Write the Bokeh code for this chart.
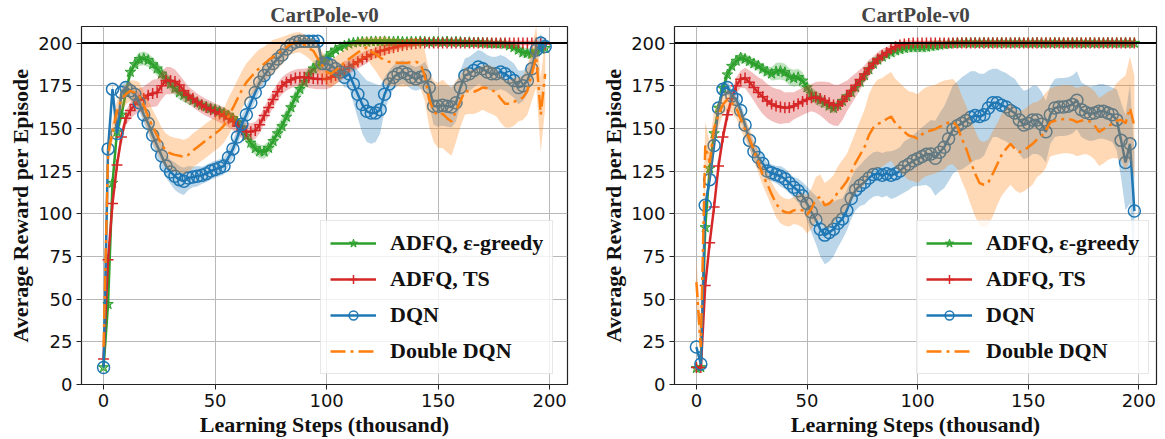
from bokeh.plotting import figure
from bokeh.models import Range1d, FixedTicker, Span, Legend, LegendItem
from bokeh.layouts import row
from bokeh.embed import file_html
from bokeh.resources import INLINE

# ---------------- data (learning steps in thousands) ----------------
STEPS = list(range(0, 200, 2))
X_TICKS = [0, 50, 100, 150, 200]
Y_TICKS = [0, 25, 50, 75, 100, 125, 150, 175, 200]
TITLE = "CartPole-v0"
LABELS = ["ADFQ, \u03b5-greedy", "ADFQ, TS", "DQN", "Double DQN"]

# ---- left panel ----
L_EG = [10, 47, 118, 148, 158, 171, 183, 187.5, 190.5, 191,
        190, 187.5, 185, 182, 179, 176, 173.5, 171, 169.5, 168,
        166.5, 165, 163.7, 162.7, 161.7, 161, 160, 159, 157.6, 156,
        153.5, 150.5, 145.5, 141.5, 138.3, 136.5, 136.3, 138.5, 142.5, 147,
        151.2, 156.7, 162.3, 167.8, 173, 177, 181.5, 185, 186.8, 189.2,
        191.3, 194, 196, 197.5, 198.5, 199.5, 200.2, 200.5, 200.8, 200.6,
        200.9, 201, 200.8, 201, 200.7, 200.9, 201, 200.8, 200.6, 200.9,
        200.7, 201, 200.8, 200.5, 200.9, 200.7, 200.6, 200.9, 200.5, 200.8,
        200.6, 200.3, 200.5, 200.2, 200.4, 200.1, 200, 199.8, 199.6, 199.7,
        199.4, 198.5, 197.5, 196, 194.5, 194, 193.6, 195, 196.5, 197]
L_EG_SD = [1, 4, 5, 5, 4, 4, 4, 4, 4, 4,
           4, 4, 4, 4, 4, 4, 4, 4, 4, 4,
           3, 3, 3, 3, 3, 3, 3, 3, 3, 3,
           3, 4, 4, 4, 4, 4, 4, 4, 5, 5,
           5, 5, 5, 5, 5, 5, 4, 4, 4, 4,
           3, 3, 2, 2, 2, 1.5, 1.5, 1.5, 1.5, 1.5,
           1.5, 1.5, 1.5, 1.5, 1.5, 1.5, 1.5, 1.5, 1.5, 1.5,
           1.5, 1.5, 1.5, 1.5, 1.5, 1.5, 1.5, 1.5, 1.5, 1.5,
           1.5, 1.5, 1.5, 1.5, 1.5, 1.5, 1.5, 1.5, 1.5, 1.5,
           2, 2, 3, 3, 3, 3, 3, 3, 3, 3]
L_TS = [15, 73, 106, 128.5, 145, 156, 160.5, 164, 166.5, 167.5,
        169.5, 170.5, 171, 175, 178, 178, 177.5, 175.5, 172, 169.5,
        167.5, 165.5, 163.7, 162.3, 161, 159.8, 158.5, 157.2, 155.7, 154,
        151.5, 149.3, 148.2, 148, 148.8, 152.2, 157.5, 162.3, 167, 171.5,
        175, 177, 178.5, 179.5, 180, 180, 179.7, 179.3, 179, 179,
        179, 180, 181, 182.5, 184.5, 186, 187.5, 189, 190.5, 192,
        193.3, 194.3, 195.3, 196, 196.8, 197.3, 198, 198.5, 199, 199.4,
        199.7, 200, 200, 200, 200, 200, 200, 200, 200, 200,
        200, 200, 200, 200, 200, 200, 200, 200, 200, 200,
        200, 200, 200, 200, 200, 200, 200, 200, 200, 199.5]
L_TS_SD = [1, 4, 4, 4, 4, 4, 5, 6, 7, 7,
           7, 8, 8, 8, 8, 8, 7, 6, 6, 5,
           5, 5, 5, 5, 5, 5, 5, 5, 5, 5,
           5, 5, 5, 5, 5, 5, 5, 5, 5, 5,
           5, 5, 5, 5, 5, 5, 6, 6, 6, 6,
           6, 6, 5, 5, 5, 4, 4, 4, 4, 4,
           3, 3, 3, 3, 3, 2, 2, 2, 2, 2,
           1.5, 1.5, 1.5, 1.5, 1.5, 1.5, 1.5, 1.5, 1.5, 1.5,
           1.5, 1.5, 1.5, 1.5, 1.5, 1.5, 1.5, 1.5, 1.5, 1.5,
           1.5, 1.5, 1.5, 1.5, 1.5, 1.5, 1.5, 1.5, 1.5, 1.5]
L_DQN = [10, 138, 173, 147, 171, 174, 172, 170, 165, 158,
         153, 146, 140, 134, 128, 124.5, 122, 120, 119, 121,
         121.5, 122, 122.5, 123.5, 125, 126, 127, 128, 133, 138,
         145, 152.5, 158, 165, 171, 177, 181, 184.5, 188, 190.7,
         193, 196.5, 199, 200.5, 201, 201, 201, 201, 201, 188,
         188, 187, 185, 183, 180, 182, 176, 170, 164, 160,
         159, 159, 161, 170, 176, 180, 182, 183, 182, 180,
         179, 180, 181, 174, 163, 163, 163.5, 163, 162.5, 165,
         174, 181, 182, 184, 186, 185, 183, 182, 182, 183,
         182, 180, 178, 174, 175, 178, 185, 196, 200, 198]
L_DQN_SD = [2, 4, 4, 4, 4, 4, 4, 5, 5, 5,
            6, 6, 7, 7, 7, 7, 8, 8, 8, 7,
            6, 6, 5, 5, 5, 5, 5, 5, 5, 5,
            5, 5, 5, 5, 5, 5, 5, 5, 4, 4,
            4, 4, 3, 3, 2, 2, 2, 2, 2, 4,
            5, 5, 5, 5, 6, 8, 11, 14, 17, 18,
            18, 17, 14, 10, 8, 7, 7, 7, 7, 7,
            7, 7, 8, 10, 11, 12, 12, 12, 12, 11,
            10, 10, 10, 10, 10, 10, 10, 10, 10, 10,
            10, 10, 10, 10, 9, 8, 7, 6, 5, 4]
L_DDQN = [22, 135, 148, 160, 167, 170, 172, 171, 169, 163.5,
          157, 151, 146, 140.5, 137, 135.3, 134.5, 134, 133.3, 134.5,
          137, 139, 141, 143, 145, 147, 149, 151.8, 157, 162,
          167.3, 172.5, 177, 180, 183, 185.5, 187.8, 190, 192, 193.6,
          195.5, 197.5, 199.4, 200.2, 200.4, 199, 197, 195.5, 191, 187,
          183, 182, 184, 186, 188.5, 190.7, 192.6, 194.5, 196, 197.5,
          195, 193.6, 191.5, 190, 189, 188.8, 188.5, 188.3, 188.5, 188.8,
          189, 188, 181, 167, 160, 157.6, 158.6, 156, 154, 160,
          166, 172, 171.5, 171.5, 172.5, 174, 173.5, 172.5, 171.2, 167.5,
          164.5, 164.4, 165.5, 167, 168, 172, 182, 192, 158, 182]
L_DDQN_SD = [3, 6, 6, 6, 6, 6, 6, 7, 8, 8,
             9, 10, 10, 10, 10, 10, 10, 10, 10, 10,
             10, 10, 10, 10, 10, 10, 10, 10, 11, 11,
             11, 11, 11, 11, 11, 11, 10, 10, 10, 9,
             8, 7, 6, 6, 6, 6, 6, 7, 8, 8,
             8, 8, 8, 8, 8, 8, 8, 8, 7, 6,
             8, 10, 12, 14, 14, 14, 14, 14, 14, 14,
             14, 14, 15, 16, 18, 19, 20, 20, 20, 18,
             15, 14, 13, 13, 13, 13, 14, 14, 14, 14,
             14, 14, 14, 13, 13, 14, 16, 18, 22, 20]

# ---- right panel ----
R_EG = [9.5, 10, 92, 126.5, 147, 162, 173.5, 181.5, 186.5, 189.5,
        191.5, 190.7, 189.3, 188, 186.7, 184.8, 183.2, 182, 183.4, 183.6,
        182.9, 180.3, 179.4, 180, 177.9, 174, 170.2, 168, 166.6, 164.9,
        163.2, 161.8, 163.5, 166, 168.7, 171.2, 174, 177.2, 181, 184.5,
        187.8, 190.2, 191.9, 193.3, 194.5, 195.6, 196.3, 197, 197.5, 197.5,
        197.8, 197.5, 197.8, 198.2, 198.5, 198.9, 199.2, 199.5, 199.8, 200,
        200, 200.2, 200, 200.1, 200, 200.2, 200, 200.1, 200, 200.2,
        200, 200.1, 200, 200.2, 200, 200.1, 200, 200.2, 200, 200.1,
        200, 200.2, 200, 200.1, 200, 200.2, 200, 200.1, 200, 200.2,
        200, 200.1, 200, 200.2, 200, 200.1, 200, 200.2, 200, 200]
R_EG_SD = [1, 2, 5, 5, 4, 4, 3, 3, 3, 3,
           3, 3, 3, 3, 3, 3, 3, 4, 5, 5,
           5, 5, 5, 5, 5, 4, 4, 4, 4, 3,
           3, 3, 3, 3, 3, 3, 3, 3, 3, 3,
           3, 3, 3, 3, 3, 3, 3, 3, 3, 3,
           3, 3, 3, 3, 3, 3, 1.5, 1.5, 1.5, 1.5,
           1.5, 1.5, 1.5, 1.5, 1.5, 1.5, 1.5, 1.5, 1.5, 1.5,
           1.5, 1.5, 1.5, 1.5, 1.5, 1.5, 1.5, 1.5, 1.5, 1.5,
           1.5, 1.5, 1.5, 1.5, 1.5, 1.5, 1.5, 1.5, 1.5, 1.5,
           1.5, 1.5, 1.5, 1.5, 1.5, 1.5, 1.5, 1.5, 1.5, 1.5]
R_TS = [10, 10, 58, 83, 104, 128, 145, 158, 167.5, 175,
        178.8, 179.5, 177, 174, 171, 168.5, 166, 164.3, 163.2, 162.6,
        162.1, 162.2, 163.2, 164.5, 165.8, 167, 168, 168.2, 167.5, 166.3,
        165, 163.7, 163.4, 165.8, 168.9, 172.2, 175.3, 178.6, 181.9, 185.2,
        188.1, 190.7, 192.7, 194.5, 196.5, 197.8, 198.8, 199.4, 199.8, 200,
        200, 200, 200, 200, 200, 200, 200, 200, 200, 200,
        200, 200, 200, 200, 200, 200, 200, 200, 200, 200,
        200, 200, 200, 200, 200, 200, 200, 200, 200, 200,
        200, 200, 200, 200, 200, 200, 200, 200, 200, 200,
        200, 200, 200, 200, 200, 200, 200, 200, 200, 200]
R_TS_SD = [1, 1, 3, 3, 3, 3, 4, 4, 4, 5,
           5, 6, 7, 8, 9, 10, 10, 10, 10, 10,
           9, 9, 8, 8, 8, 8, 8, 9, 10, 11,
           12, 12, 12, 11, 9, 8, 7, 6, 5, 5,
           4, 4, 4, 3, 3, 3, 2, 2, 2, 1.5,
           1.5, 1.5, 1.5, 1.5, 1.5, 1.5, 1.5, 1.5, 1.5, 1.5,
           1.5, 1.5, 1.5, 1.5, 1.5, 1.5, 1.5, 1.5, 1.5, 1.5,
           1.5, 1.5, 1.5, 1.5, 1.5, 1.5, 1.5, 1.5, 1.5, 1.5,
           1.5, 1.5, 1.5, 1.5, 1.5, 1.5, 1.5, 1.5, 1.5, 1.5,
           1.5, 1.5, 1.5, 1.5, 1.5, 1.5, 1.5, 1.5, 1.5, 1.5]
R_DQN = [22, 12, 105, 120, 140, 162, 173, 174, 169, 167,
         160.5, 152, 143, 136.5, 133, 129.5, 125, 124, 123, 122,
         120.5, 118, 115.5, 113.5, 110.5, 106, 101, 96.5, 91, 87.5,
         89, 91, 94.4, 97, 102, 109, 114, 116.5, 118.5, 121,
         123, 123.5, 122.6, 123.5, 122.6, 123.5, 125, 127.5, 129, 131,
         132.3, 133.5, 134.8, 135, 132.5, 136, 139, 144, 149.5, 151.5,
         153, 154.7, 156.5, 157.5, 157, 158, 162, 165, 165, 163.5,
         162.5, 160.5, 159, 155, 152, 153, 155, 155, 152.5, 148,
         158, 162, 162.5, 162.5, 163, 164, 166.5, 161, 159.5, 158.6,
         159, 160, 160, 159, 158, 155, 143, 130, 141, 101.6]
R_DQN_SD = [2, 3, 4, 4, 4, 4, 4, 4, 4, 4,
            5, 5, 5, 5, 5, 5, 5, 5, 5, 6,
            6, 6, 6, 7, 8, 10, 12, 14, 16, 17,
            17, 16, 14, 12, 12, 12, 12, 12, 13, 13,
            13, 13, 13, 13, 14, 14, 14, 15, 15, 15,
            16, 17, 18, 20, 22, 23, 24, 25, 26, 26,
            27, 27, 27, 26, 25, 24, 22, 20, 20, 20,
            20, 20, 20, 20, 20, 20, 20, 20, 19, 18,
            17, 17, 17, 17, 17, 17, 17, 16, 16, 16,
            16, 16, 16, 16, 16, 18, 22, 28, 35, 35]
R_DDQN = [60, 22, 140, 130, 150, 158, 164, 167, 165, 162,
          155.5, 149.5, 144, 137, 130, 122.6, 117.5, 111.5, 106, 102.5,
          101, 100.5, 102, 102.5, 102, 99.5, 103, 108.5, 110, 105,
          106, 108.5, 112.8, 115.5, 119, 124.5, 130, 134.5, 139, 146,
          150.5, 152.7, 153.5, 155.5, 157, 153, 150.5, 148, 145.8, 145.2,
          144, 146.5, 148.2, 148.8, 149.6, 151, 152, 153.5, 154, 151,
          144, 138, 130.5, 123.5, 118, 117, 118.5, 123.5, 129, 134.5,
          138, 141, 138, 136.2, 137, 139, 141, 143.5, 145.5, 149,
          153.5, 154.5, 155, 155.5, 155.5, 155, 153.7, 154.5, 155, 154,
          151.8, 148, 149.5, 151.5, 152.5, 154.5, 155, 153, 162, 151]
R_DDQN_SD = [15, 10, 14, 12, 10, 7, 6, 6, 6, 6,
             6, 6, 6, 6, 6, 6, 7, 7, 8, 8,
             8, 8, 8, 9, 10, 11, 12, 13, 13, 13,
             14, 14, 15, 16, 16, 17, 18, 20, 22, 24,
             25, 26, 26, 26, 26, 26, 26, 26, 26, 26,
             26, 26, 26, 26, 26, 26, 26, 25, 25, 25,
             25, 25, 25, 25, 25, 25, 25, 25, 24, 24,
             24, 24, 24, 24, 24, 24, 24, 22, 22, 22,
             20, 20, 20, 20, 20, 20, 20, 20, 20, 20,
             20, 20, 20, 20, 20, 22, 24, 28, 30, 30]

# ---------------- styling ----------------
GREEN, RED, BLUE, ORANGE = "#2ca02c", "#d62728", "#1f77b4", "#ff7f0e"
SERIF = "Liberation Serif"


def panel(width, border_left, border_right, series, legend_xy):
    p = figure(width=width, height=439, output_backend="svg", toolbar_location=None,
               x_range=Range1d(-9.9, 208), y_range=Range1d(0, 209.7),
               min_border_left=border_left, min_border_right=border_right,
               min_border_top=0, min_border_bottom=0,
               background_fill_color="white", border_fill_color="white")
    p.title.text = TITLE
    p.title.align = "center"
    p.title.text_font = SERIF
    p.title.text_font_style = "bold"
    p.title.text_font_size = "21px"
    p.title.standoff = 0
    p.title.offset = 0

    p.outline_line_color = "#222222"
    p.outline_line_width = 1.2
    for ax in (p.xaxis[0], p.yaxis[0]):
        ax.axis_line_color = None
        ax.major_tick_line_color = "#222222"
        ax.major_tick_out = 5
        ax.major_tick_in = 0
        ax.minor_tick_line_color = None
        ax.major_label_text_font = "DejaVu Sans"
        ax.major_label_text_font_size = "18px"
        ax.major_label_text_color = "#111111"
        ax.axis_label_text_font = SERIF
        ax.axis_label_text_font_style = "bold"
        ax.axis_label_text_font_size = "22px"
        ax.axis_label_text_color = "#111111"
        ax.major_label_standoff = 4
        ax.axis_label_standoff = 2
    p.xaxis.ticker = FixedTicker(ticks=X_TICKS)
    p.yaxis.ticker = FixedTicker(ticks=Y_TICKS)
    p.xaxis.axis_label = "Learning Steps (thousand)"
    p.yaxis.axis_label = "Average Reward per Episode"
    p.grid.grid_line_color = "#b8b8b8"
    p.grid.grid_line_width = 1

    items = []
    for label, mean, sd, color, marker in series:
        lo = [m - s for m, s in zip(mean, sd)]
        hi = [m + s for m, s in zip(mean, sd)]
        p.varea(x=STEPS, y1=lo, y2=hi, fill_color=color, fill_alpha=0.3)
        if marker == "dashdot":
            ln = p.line(STEPS, mean, line_color=color, line_width=2.5, line_dash="15 5 3 5")
            rs = [ln]
        else:
            ln = p.line(STEPS, mean, line_color=color, line_width=2.5)
            if marker == "circle":
                mk = p.scatter(STEPS, mean, marker="circle", size=12, line_color=color,
                               line_width=1.5, fill_color=None)
            elif marker == "star":
                mk = p.scatter(STEPS, mean, marker="star", size=11, line_color=color,
                               line_width=1, fill_color=color, fill_alpha=0.6)
            else:
                mk = p.scatter(STEPS, mean, marker="cross", size=11, line_color=color,
                               line_width=1.5)
            rs = [ln, mk]
        items.append(LegendItem(label=label, renderers=rs))

    p.add_layout(Span(location=200, dimension="width", line_color="black", line_width=2))

    leg = Legend(items=items, location=legend_xy, margin=0,
                 label_text_font=SERIF, label_text_font_style="bold",
                 label_text_font_size="22px", label_text_color="#111111",
                 glyph_width=46, glyph_height=22, label_standoff=14,
                 spacing=10, padding=9,
                 background_fill_color="white", background_fill_alpha=0.8,
                 border_line_color="#d0d0d0", border_line_width=1)
    p.add_layout(leg, "center")
    return p


left = panel(590, 81, 23,
             [(LABELS[0], L_EG, L_EG_SD, GREEN, "star"),
              (LABELS[1], L_TS, L_TS_SD, RED, "cross"),
              (LABELS[2], L_DQN, L_DQN_SD, BLUE, "circle"),
              (LABELS[3], L_DDQN, L_DDQN_SD, ORANGE, "dashdot")],
             (239, 10))
right = panel(575, 84, 9,
              [(LABELS[0], R_EG, R_EG_SD, GREEN, "star"),
               (LABELS[1], R_TS, R_TS_SD, RED, "cross"),
               (LABELS[2], R_DQN, R_DQN_SD, BLUE, "circle"),
               (LABELS[3], R_DDQN, R_DDQN_SD, ORANGE, "dashdot")],
              (242, 10))

layout = row(left, right)
open("out.html", "w").write(file_html(layout, INLINE))
